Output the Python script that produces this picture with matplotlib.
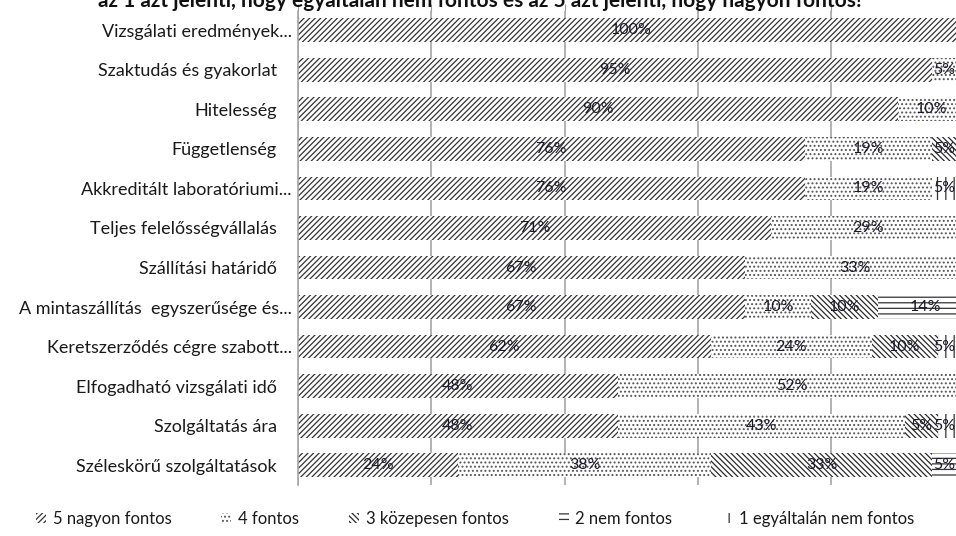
import matplotlib
matplotlib.use("Agg")
import matplotlib.pyplot as plt
import numpy as np
from matplotlib.transforms import ScaledTranslation

categories = [
    "Vizsgálati eredmények...",
    "Szaktudás és gyakorlat",
    "Hitelesség",
    "Függetlenség",
    "Akkreditált laboratóriumi...",
    "Teljes felelősségvállalás",
    "Szállítási határidő",
    "A mintaszállítás  egyszerűsége és...",
    "Keretszerződés cégre szabott...",
    "Elfogadható vizsgálati idő",
    "Szolgáltatás ára",
    "Széleskörű szolgáltatások",
]
series_names = ["5 nagyon fontos", "4 fontos", "3 közepesen fontos",
                "2 nem fontos", "1 egyáltalán nem fontos"]
v5 = [100, 95, 90, 76, 76, 71, 67, 67, 62, 48, 48, 24]
v4 = [0, 5, 10, 19, 19, 29, 33, 10, 24, 52, 43, 38]
v3 = [0, 0, 0, 5, 0, 0, 0, 10, 10, 0, 5, 33]
v2 = [0, 0, 0, 0, 0, 0, 0, 14, 0, 0, 0, 5]
v1 = [0, 0, 0, 0, 5, 0, 0, 0, 5, 0, 5, 0]
series = [v5, v4, v3, v2, v1]
title = "az 1 azt jelenti, hogy egyáltalán nem fontos és az 5 azt jelenti, hogy nagyon fontos!"

hatches = ["//////", "....", "\\\\\\\\\\\\", "---", "||"]
hatch_colors = ["#333333", "#555555", "#2a2a2a", "#333333", "#333333"]

plt.rcParams["font.family"] = ["Lato", "DejaVu Sans"]
plt.rcParams["hatch.linewidth"] = 0.9

W, H = 956, 536
fig = plt.figure(figsize=(W / 100, H / 100), dpi=100)
left_px, right_px, top_px, bot_px = 297.5, 965, 10.5, 485
ax = fig.add_axes([left_px / W, 1 - bot_px / H, (right_px - left_px) / W,
                   (bot_px - top_px) / H])

y = np.arange(len(categories))
left = np.zeros(len(categories))
containers = []
for vals, name, h, hc in zip(series, series_names, hatches, hatch_colors):
    vals = np.array(vals, dtype=float)
    bc = ax.barh(y, vals, left=left, height=0.6, color="white",
                 edgecolor=hc, linewidth=0, hatch=h, label=name, zorder=2)
    containers.append(bc)
    for yi, (l, v) in enumerate(zip(left, vals)):
        if v > 0:
            xc = min(l + v / 2, 96.9)
            ax.text(xc, yi, f"{int(v)}%", ha="center", va="center",
                    fontsize=11.5, color="#1a1a2a", zorder=3)
    left = left + vals

ax.set_xlim(0, 100)
ax.set_ylim(len(categories) - 0.5, -0.5)
ax.set_yticks(y)
ax.set_yticklabels(categories, fontsize=13, color="#1a1a1a")
ax.tick_params(axis="y", length=0, pad=4)
ax.xaxis.tick_top()
ax.set_xticks([0, 20, 40, 60, 80, 100])
ax.tick_params(axis="x", length=5, color="#9a9a9a", labeltop=False,
               labelbottom=False, top=True, bottom=False)
ax.grid(axis="x", color="#a6a6a6", linewidth=1.2, zorder=0)
ax.set_axisbelow(True)
for s in ["top", "right", "bottom"]:
    ax.spines[s].set_visible(False)
ax.spines["left"].set_color("#a6a6a6")
ax.spines["left"].set_linewidth(1.2)

# non-truncated labels sit a bit further left
for lbl in ax.get_yticklabels():
    if not lbl.get_text().endswith("..."):
        lbl.set_transform(lbl.get_transform() +
                          ScaledTranslation(-0.15, 0, fig.dpi_scale_trans))

fig.text(0.502, 1 - 7 / H, title, ha="center", va="baseline",
         fontsize=15, fontweight="bold", color="#111111")

leg = fig.legend(handles=containers, labels=series_names, loc="center",
                 bbox_to_anchor=(0.497, 1 - 519 / H), ncol=5, frameon=False,
                 fontsize=12, handlelength=0.6, handleheight=0.6,
                 handletextpad=0.4, columnspacing=3.0)
for t in leg.get_texts():
    t.set_color("#1a1a1a")

fig.savefig("out.png", dpi=100)
